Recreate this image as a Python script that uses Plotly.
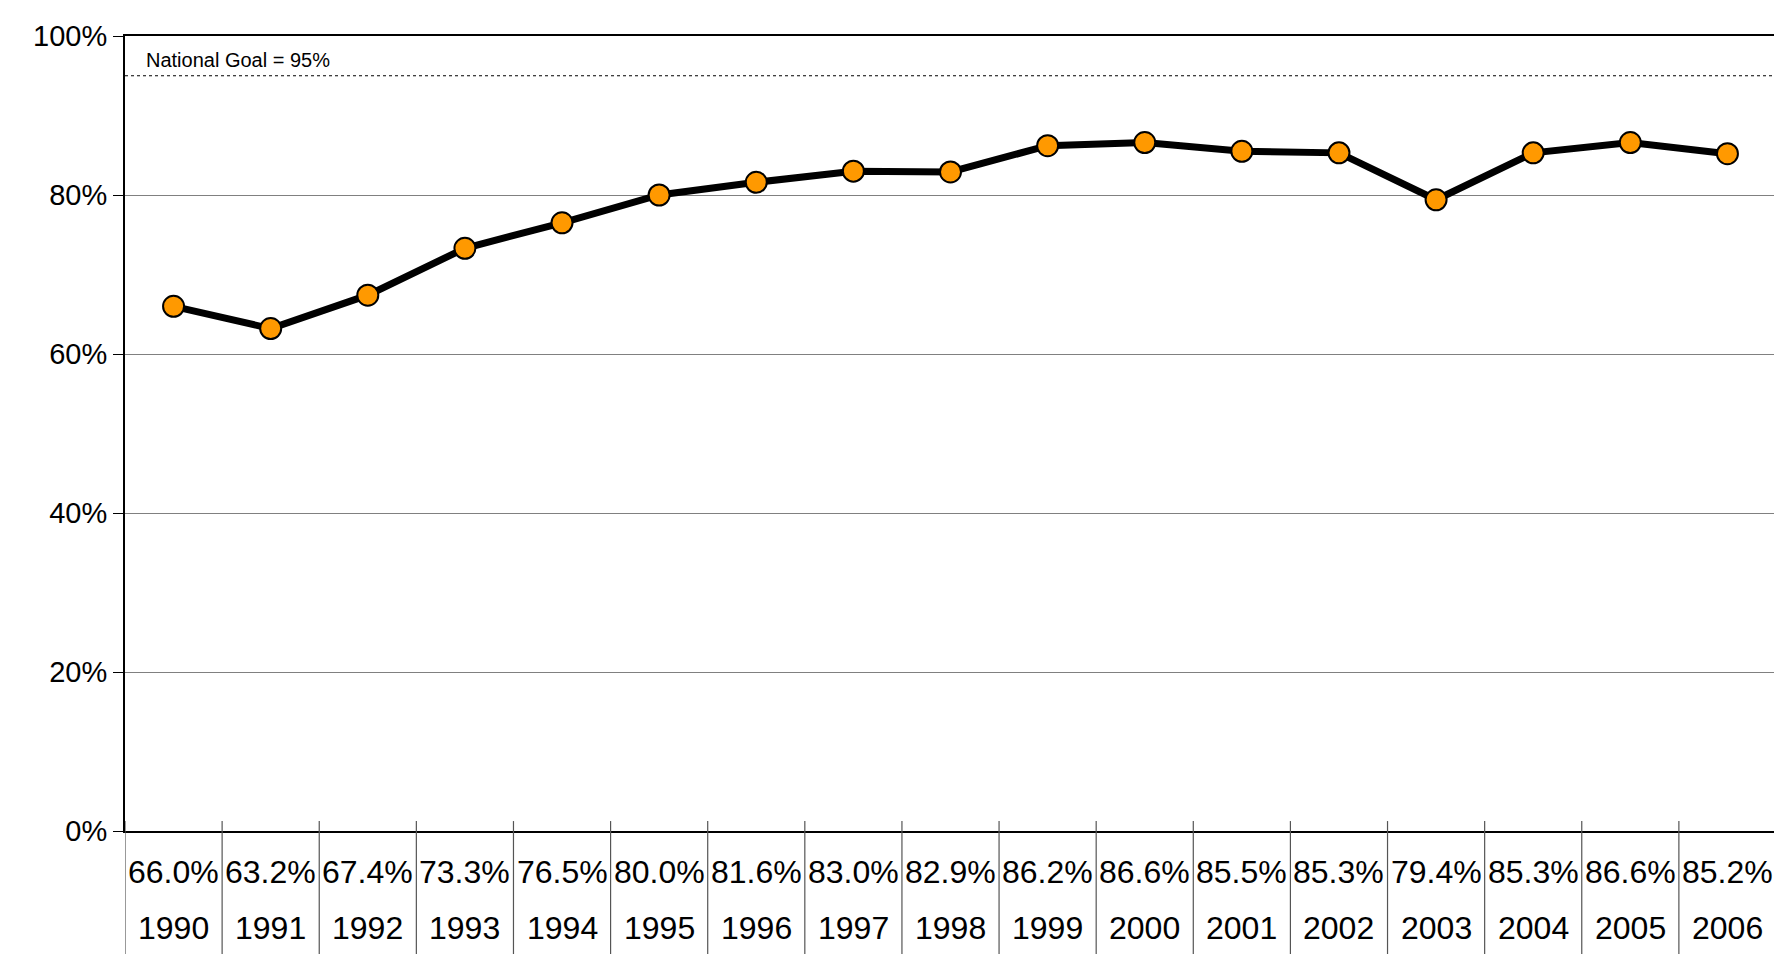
import plotly.graph_objects as go

years = ["1990","1991","1992","1993","1994","1995","1996","1997","1998","1999","2000","2001","2002","2003","2004","2005","2006"]
values = [66.0,63.2,67.4,73.3,76.5,80.0,81.6,83.0,82.9,86.2,86.6,85.5,85.3,79.4,85.3,86.6,85.2]
goal = 95
tick_vals = [0,20,40,60,80,100]
tick_text = ["0%","20%","40%","60%","80%","100%"]

n = len(years)
xs = list(range(n))
fig = go.Figure()
fig.add_trace(go.Scatter(x=xs, y=values, mode="lines+markers",
    line=dict(color="black", width=7),
    marker=dict(color="#FF9900", size=21, line=dict(color="black", width=2)),
    showlegend=False, hoverinfo="skip"))

shapes = [dict(type="line", xref="x", yref="y", x0=-0.5, x1=n-0.5, y0=goal, y1=goal,
               line=dict(color="black", width=1, dash="dot"))]
for i in range(n+1):
    shapes.append(dict(type="line", xref="x", yref="paper", x0=i-0.5, x1=i-0.5, y0=0.0125, y1=-0.17,
                       line=dict(color="#555555", width=1.2)))
annotations = [dict(x=-0.3, y=goal, xref="x", yref="y", text="National Goal = 95%", showarrow=False,
                    xanchor="left", yanchor="bottom", yshift=3, font=dict(size=20, color="black"))]
for i in range(n):
    annotations.append(dict(x=i, y=-0.077, xref="x", yref="paper", text=f"{values[i]:.1f}%",
                            showarrow=False, font=dict(size=32, color="black")))
    annotations.append(dict(x=i, y=-0.147, xref="x", yref="paper", text=years[i],
                            showarrow=False, font=dict(size=32, color="black")))

fig.update_layout(
    width=1782, height=954, margin=dict(l=117, r=13, t=22, b=131),
    paper_bgcolor="white", plot_bgcolor="white",
    font=dict(family="Liberation Sans, Arial, sans-serif", color="black"),
    xaxis=dict(range=[-0.5, n-0.5], showticklabels=False, showgrid=False, zeroline=False,
               showline=True, linecolor="black", linewidth=2, mirror=True),
    yaxis=dict(range=[0, 100], tickvals=tick_vals, ticktext=tick_text, tickfont=dict(size=29),
               showgrid=True, gridcolor="#808080", gridwidth=1, zeroline=False,
               showline=True, linecolor="black", linewidth=2, mirror=True,
               ticks="outside", ticklen=10, tickcolor="black"),
    shapes=shapes, annotations=annotations)
fig.write_html("out.html")
